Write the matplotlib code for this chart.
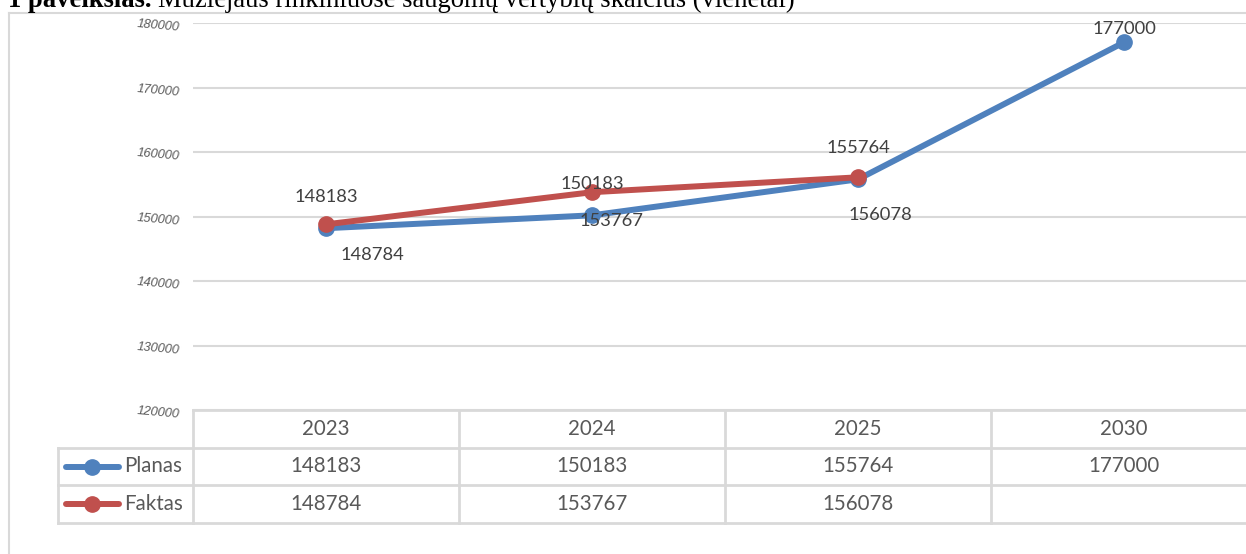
import matplotlib
matplotlib.use("Agg")  # No display needed
import matplotlib.pyplot as plt
from matplotlib.lines import Line2D
import numpy as np

# Chart data
years = ["2023", "2024", "2025", "2030"]
planas = [148183, 150183, 155764, 177000]
faktas = [148784, 153767, 156078, None]
series_names = ["Planas", "Faktas"]
y_ticks = [120000, 130000, 140000, 150000, 160000, 170000, 180000]

title_bold = "1 paveikslas."
title_rest = "Muziejaus rinkiniuose saugomų vertybių skaičius (vienetai)"

BLUE = "#4f81bd"
RED = "#c0504d"
GRID = "#d9d9d9"
TXT = "#595959"
LBL = "#404040"
FONT = "Lato"
LW = 4.3
MS = 11

W, H = 1246, 554
CAT_PX = 266  # width of one category column in pixels

fig = plt.figure(figsize=(W / 100, H / 100), dpi=100)


def fx(px):
    return px / W


def fy(py):
    return 1 - py / H


# Plot area (extends past the right edge, as in the cropped original)
plot_left, plot_top, plot_bottom = 193, 23, 410
plot_right = plot_left + CAT_PX * len(years)
ax = fig.add_axes([fx(plot_left), fy(plot_bottom),
                   (plot_right - plot_left) / W, (plot_bottom - plot_top) / H])
ax.set_xlim(-0.5, len(years) - 0.5)
ax.set_ylim(y_ticks[0], y_ticks[-1])
for s in ax.spines.values():
    s.set_visible(False)
ax.set_xticks([])
ax.set_yticks(y_ticks)
ax.set_yticklabels([str(t) for t in y_ticks], rotation=-5, fontstyle="italic",
                   family="Liberation Sans", fontsize=9.3, color=TXT)
ax.tick_params(axis="y", length=0, pad=9)
ax.yaxis.grid(True, color=GRID, lw=1.5)
ax.set_axisbelow(True)

x = np.arange(len(years))
ax.plot(x, planas, color=BLUE, lw=LW, marker="o", ms=MS,
        solid_capstyle="round", zorder=3, clip_on=False)
fx_idx = [i for i, v in enumerate(faktas) if v is not None]
ax.plot(fx_idx, [faktas[i] for i in fx_idx], color=RED, lw=LW, marker="o", ms=MS,
        solid_capstyle="round", zorder=4, clip_on=False)

# Data labels (offsets in pixels, as placed in the original chart)
plan_off = [(0, 31), (0, 31), (0, 31), (0, 13)]
fakt_off = [(46, -31), (20, -29), (22, -38)]
for i, v in enumerate(planas):
    ax.annotate(str(v), (i, v), xytext=plan_off[i], textcoords="offset pixels",
                ha="center", va="center", fontsize=13.2, color=LBL, family=FONT,
                zorder=5, annotation_clip=False)
for i in fx_idx:
    ax.annotate(str(faktas[i]), (i, faktas[i]), xytext=fakt_off[i],
                textcoords="offset pixels", ha="center", va="center",
                fontsize=13.2, color=LBL, family=FONT, zorder=5,
                annotation_clip=False)

# Data table under the chart
table_bottom = 523
tax = fig.add_axes([fx(plot_left), fy(table_bottom),
                    (plot_right - plot_left) / W, (table_bottom - plot_bottom) / H])
tax.set_xlim(-0.5, len(years) - 0.5)
tax.set_ylim(3, 0)
tax.axis("off")

leg_left = -0.5 - (plot_left - 58) / CAT_PX
right = len(years) - 0.5
lkw = dict(color=GRID, lw=2, clip_on=False)
tax.plot([-0.5, right], [0, 0], **lkw)
for r in (1, 2, 3):
    tax.plot([leg_left, right], [r, r], **lkw)
tax.plot([leg_left, leg_left], [1, 3], **lkw)
for c in np.arange(len(years)) - 0.5:
    tax.plot([c, c], [0, 3], **lkw)

rows = [planas, faktas]
for i, yr in enumerate(years):
    tax.text(i, 0.5, yr, ha="center", va="center", fontsize=14.8,
             color=TXT, family=FONT)
    for r, vals in enumerate(rows):
        if vals[i] is not None:
            tax.text(i, r + 1.5, str(vals[i]), ha="center", va="center",
                     fontsize=14.8, color=TXT, family=FONT)


def px_to_cat(px):
    return -0.5 + (px - plot_left) / CAT_PX


for r, (name, col) in enumerate(zip(series_names, [BLUE, RED])):
    yy = r + 1.5
    tax.plot([px_to_cat(66), px_to_cat(119)], [yy, yy], color=col, lw=LW,
             solid_capstyle="round", clip_on=False)
    tax.plot([px_to_cat(92)], [yy], "o", color=col, ms=MS, clip_on=False)
    tax.text(px_to_cat(124), yy, name, ha="left", va="center", fontsize=14.8,
             color=TXT, family=FONT)

# Outer chart border (only top and left are visible in the crop)
fig.add_artist(Line2D([fx(9), fx(9)], [fy(13), 0], color=GRID, lw=1.5))
fig.add_artist(Line2D([fx(9), 1], [fy(13), fy(13)], color=GRID, lw=1.5))

# Title, cut off at the top edge like the source image
t1 = fig.text(fx(8), fy(7), title_bold, ha="left", va="baseline",
              family="Liberation Serif", fontweight="bold", fontsize=19.2)
renderer = fig.canvas.get_renderer()
bb = t1.get_window_extent(renderer)
fig.text(bb.x1 / W + fx(6), fy(7), title_rest, ha="left", va="baseline",
         family="Liberation Serif", fontsize=19.2)

fig.savefig("out.png", dpi=100)
